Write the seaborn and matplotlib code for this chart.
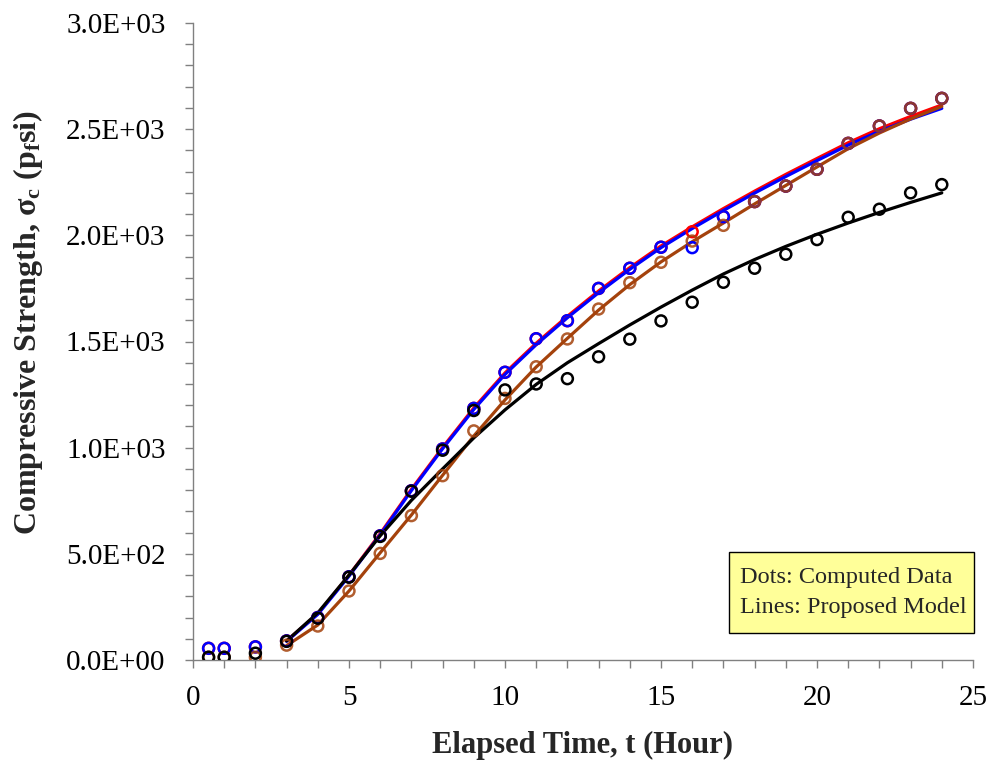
import matplotlib
matplotlib.use("Agg")
import matplotlib.pyplot as plt
import matplotlib.ticker as mticker
from matplotlib.patches import Rectangle
import seaborn as sns
import pandas as pd

# Sampling times of the computed data (hours)
t_dots = [0.5, 1, 2, 3, 4, 5, 6, 7, 8, 9, 10, 11, 12, 13, 14, 15, 16, 17,
          18, 19, 20, 21, 22, 23, 24]
# Computed compressive strength (psi)
blue_dots = [55, 55, 62, 90, 200, 392, 585, 797, 994, 1185, 1355, 1513, 1598,
             1750, 1845, 1944, 1942, 2088, 2159, 2232, 2311, 2433, 2515, 2598, 2645]
red_dots = [55, 55, 62, 90, 200, 392, 585, 797, 994, 1185, 1355, 1513, 1598,
            1750, 1845, 1944, 2017, 2088, 2159, 2232, 2311, 2433, 2515, 2598, 2645]
brown_dots = [13, 13, 13, 70, 160, 325, 502, 680, 868, 1079, 1232, 1381, 1512,
              1653, 1777, 1873, 1973, 2047, 2159, 2232, 2311, 2433, 2515, 2598, 2645]
black_dots = [13, 13, 32, 88, 197, 390, 582, 795, 988, 1175, 1272, 1300, 1325,
              1428, 1511, 1597, 1685, 1779, 1845, 1911, 1980, 2085, 2123, 2200, 2239]

# Proposed model evaluated hourly (psi)
t_model = [3, 4, 5, 6, 7, 8, 9, 10, 11, 12, 13, 14, 15, 16, 17, 18, 19, 20,
           21, 22, 23, 24]
red_model = [90, 218, 399, 595, 804, 1001, 1187, 1352, 1492, 1619, 1738, 1848,
             1950, 2040, 2126, 2208, 2287, 2362, 2436, 2502, 2560, 2614]
blue_model = [88, 215, 395, 590, 798, 995, 1180, 1345, 1485, 1612, 1730, 1840,
              1942, 2032, 2117, 2199, 2277, 2352, 2425, 2490, 2547, 2598]
brown_model = [68, 165, 325, 505, 683, 870, 1055, 1225, 1380, 1515, 1648, 1768,
               1875, 1970, 2058, 2148, 2235, 2322, 2408, 2482, 2548, 2607]
black_model = [90, 222, 400, 585, 752, 900, 1046, 1178, 1298, 1400, 1490, 1578,
               1662, 1742, 1818, 1886, 1948, 2005, 2058, 2108, 2155, 2200]

colors = {"red": "#FF0000", "blue": "#0000FF", "brown": "#A4420C", "black": "#000000"}

dots = pd.DataFrame({"t": t_dots, "red": red_dots, "blue": blue_dots,
                     "brown": brown_dots, "black": black_dots})
model = pd.DataFrame({"t": t_model, "red": red_model, "blue": blue_model,
                      "brown": brown_model, "black": black_model})

sns.set_style("white")
serif = "Liberation Serif"
plt.rcParams["font.family"] = [serif, "DejaVu Serif"]
plt.rcParams["mathtext.fontset"] = "custom"
plt.rcParams["mathtext.rm"] = serif
plt.rcParams["mathtext.it"] = serif + ":italic"
plt.rcParams["mathtext.bf"] = serif + ":bold"
plt.rcParams["mathtext.default"] = "regular"

fig = plt.figure(figsize=(9.92, 7.70), dpi=100)
ax = fig.add_axes([193 / 992, 1 - 660 / 770, 780 / 992, 637 / 770])

# model curves
for name in ["red", "blue", "brown", "black"]:
    sns.lineplot(data=model, x="t", y=name, color=colors[name], linewidth=2.3,
                 ax=ax, zorder=3)

# computed data as hollow circles
for name in ["red", "blue", "brown", "black"]:
    sns.scatterplot(data=dots, x="t", y=name, ax=ax, s=62, marker="o",
                    facecolor="none", edgecolor=colors[name], linewidth=1.8,
                    alpha=0.85 if name == "brown" else 1.0, zorder=4)

ax.set_xlim(0, 25)
ax.set_ylim(0, 3000)
ax.xaxis.set_major_locator(mticker.MultipleLocator(5))
ax.xaxis.set_minor_locator(mticker.MultipleLocator(1))
ax.yaxis.set_major_locator(mticker.MultipleLocator(500))
ax.yaxis.set_minor_locator(mticker.MultipleLocator(100))
ax.yaxis.set_major_formatter(mticker.FuncFormatter(lambda v, p: f"{v:.1E}"))

for side in ["top", "right"]:
    ax.spines[side].set_visible(False)
for side in ["left", "bottom"]:
    ax.spines[side].set_color("#808080")
    ax.spines[side].set_linewidth(1.0)

ax.tick_params(axis="both", which="both", direction="out", color="#808080",
               length=5.8, width=1.0, labelsize=21, labelcolor="black",
               bottom=True, left=True, top=False, right=False)
ax.tick_params(axis="y", which="major", pad=14)
ax.tick_params(axis="x", which="major", pad=12)

ax.set_xlabel("Elapsed Time, t (Hour)", fontsize=22, fontweight="bold")
ax.set_ylabel("Compressive Strength, σ$_\\mathbf{c}$ (p$_\\mathbf{f}$si)",
              fontsize=23, fontweight="bold")
ax.xaxis.set_label_coords(0.5, -0.112)
ax.yaxis.set_label_coords(-0.19, 0.53)

# annotation box explaining the marks
fig.patches.append(Rectangle((729 / 992, 1 - 633 / 770), 245 / 992, 81 / 770,
                             transform=fig.transFigure, facecolor="#FFFF99",
                             edgecolor="black", linewidth=1.0, zorder=5))
fig.text(740 / 992, 1 - 578 / 770, "Dots: Computed Data", fontsize=17.5,
         va="center", ha="left", zorder=6)
fig.text(740 / 992, 1 - 608 / 770, "Lines: Proposed Model", fontsize=17.5,
         va="center", ha="left", zorder=6)

fig.savefig("out.png", dpi=100)
